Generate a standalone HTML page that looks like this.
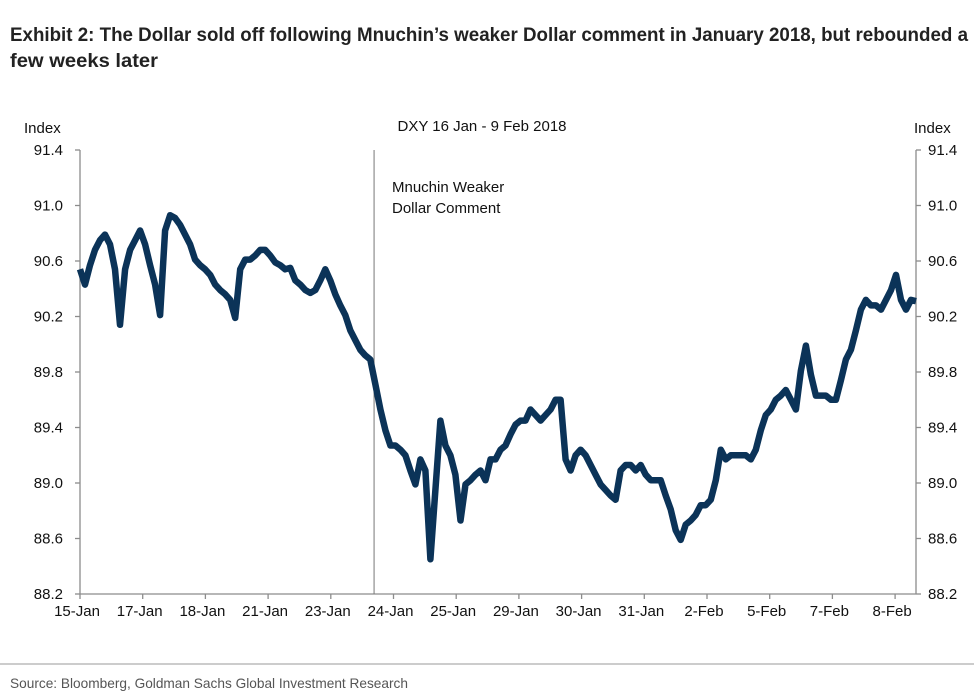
<!DOCTYPE html>
<html><head><meta charset="utf-8"><style>
html,body{margin:0;padding:0;background:#fff;}
svg{display:block;font-family:"Liberation Sans",Arial,sans-serif;}
</style></head><body>
<svg id="chart" width="974" height="691" viewBox="0 0 974 691">
<text x="10" y="41" font-size="19" font-weight="bold" fill="#222" textLength="958" lengthAdjust="spacingAndGlyphs">Exhibit 2: The Dollar sold off following Mnuchin’s weaker Dollar comment in January 2018, but rebounded a</text>
<text x="10" y="67" font-size="19" font-weight="bold" fill="#222" textLength="148" lengthAdjust="spacingAndGlyphs">few weeks later</text>
<text x="482" y="131" font-size="15" fill="#111" text-anchor="middle">DXY 16 Jan - 9 Feb 2018</text>
<text x="24" y="133" font-size="15" fill="#111">Index</text>
<text x="914" y="133" font-size="15" fill="#111">Index</text>
<g id="axes"></g>
<g id="series"></g>
<text x="392" y="192" font-size="15" fill="#111">Mnuchin Weaker</text>
<text x="392" y="213" font-size="15" fill="#111">Dollar Comment</text>
<line x1="0" y1="664" x2="974" y2="664" stroke="#999" stroke-width="1"/>
<text x="10" y="688" font-size="14" fill="#555" textLength="398" lengthAdjust="spacingAndGlyphs">Source: Bloomberg, Goldman Sachs Global Investment Research</text>
</svg>
<script>
const categories = ["15-Jan","17-Jan","18-Jan","21-Jan","23-Jan","24-Jan","25-Jan","29-Jan","30-Jan","31-Jan","2-Feb","5-Feb","7-Feb","8-Feb"];
const yTicks = [88.2,88.6,89.0,89.4,89.8,90.2,90.6,91.0,91.4];
const yTickLabels = ["88.2","88.6","89.0","89.4","89.8","90.2","90.6","91.0","91.4"];
const eventDay = 4.69;
const dxyValues = [90.54,90.43,90.57,90.68,90.75,90.79,90.72,90.54,90.14,90.54,90.68,90.75,90.82,90.72,90.57,90.43,90.21,90.82,90.93,90.91,90.86,90.79,90.72,90.61,90.57,90.54,90.50,90.43,90.39,90.36,90.32,90.19,90.54,90.61,90.61,90.64,90.68,90.68,90.64,90.59,90.57,90.54,90.55,90.46,90.43,90.39,90.37,90.39,90.46,90.54,90.46,90.36,90.28,90.21,90.10,90.03,89.96,89.92,89.89,89.71,89.53,89.38,89.27,89.27,89.24,89.20,89.09,88.99,89.17,89.09,88.45,88.95,89.45,89.27,89.20,89.06,88.73,88.99,89.02,89.06,89.09,89.02,89.17,89.17,89.24,89.27,89.35,89.42,89.45,89.45,89.53,89.49,89.45,89.49,89.53,89.60,89.60,89.17,89.09,89.20,89.24,89.20,89.13,89.06,88.99,88.95,88.91,88.88,89.09,89.13,89.13,89.09,89.13,89.06,89.02,89.02,89.02,88.91,88.81,88.66,88.59,88.70,88.73,88.77,88.84,88.84,88.88,89.02,89.24,89.17,89.20,89.20,89.20,89.20,89.17,89.24,89.38,89.49,89.53,89.60,89.63,89.67,89.60,89.53,89.81,89.99,89.78,89.63,89.63,89.63,89.60,89.60,89.74,89.89,89.96,90.10,90.25,90.32,90.28,90.28,90.25,90.32,90.39,90.50,90.32,90.25,90.32,90.31];

const NS = "http://www.w3.org/2000/svg";
const X0 = 80, X1 = 916, DAY_W = 62.7, DAY_MAX = (X1 - X0) / DAY_W;
const Y_TOP = 150, Y_BOT = 594, Y_MIN = 88.2, Y_MAX = 91.4;
const xScale = d => X0 + d * DAY_W;
const yScale = v => Y_BOT - (v - Y_MIN) / (Y_MAX - Y_MIN) * (Y_BOT - Y_TOP);
function mk(tag, attrs, parent) {
  const el = document.createElementNS(NS, tag);
  for (const k in attrs) el.setAttribute(k, attrs[k]);
  parent.appendChild(el);
  return el;
}
const axes = document.getElementById("axes");
const series = document.getElementById("series");
const AX = "#8c8c8c";

let el = mk("line", {x1: X0, y1: Y_TOP, x2: X0, y2: Y_BOT, stroke: AX, "stroke-width": 1.3}, axes);


el = mk("line", {x1: X1, y1: Y_TOP, x2: X1, y2: Y_BOT, stroke: AX, "stroke-width": 1.3}, axes);


el = mk("line", {x1: X0, y1: Y_BOT, x2: X1, y2: Y_BOT, stroke: AX, "stroke-width": 1.3}, axes);



yTicks.forEach((v, i) => {
  const y = yScale(v);
  let t = mk("line", {x1: X0 - 5, y1: y, x2: X0, y2: y, stroke: AX, "stroke-width": 1.3}, axes);
  
  
  t = mk("line", {x1: X1, y1: y, x2: X1 + 5, y2: y, stroke: AX, "stroke-width": 1.3}, axes);
  
  
  let lb = mk("text", {x: 63, y: y + 5, "font-size": 15, fill: "#111", "text-anchor": "end"}, axes);
  lb.textContent = yTickLabels[i];
  
  
  lb = mk("text", {x: 928, y: y + 5, "font-size": 15, fill: "#111"}, axes);
  lb.textContent = yTickLabels[i];
  
  
});

categories.forEach((c, i) => {
  const x = xScale(i);
  const t = mk("line", {x1: x, y1: Y_BOT, x2: x, y2: Y_BOT + 5, stroke: AX, "stroke-width": 1.3}, axes);
  
  
  const lb = mk("text", {x: x - 3, y: Y_BOT + 22, "font-size": 15, fill: "#111", "text-anchor": "middle"}, axes);
  lb.textContent = c;
  
  
});

const ev = mk("line", {x1: xScale(eventDay), y1: Y_TOP, x2: xScale(eventDay), y2: Y_BOT, stroke: "#777", "stroke-width": 1}, axes);



const n = dxyValues.length;
const pts = dxyValues.map((v, i) => xScale(i * DAY_MAX / (n - 1)).toFixed(1) + "," + yScale(v).toFixed(1)).join(" ");
const line = mk("polyline", {points: pts, fill: "none", stroke: "#0b3358", "stroke-width": 6.5, "stroke-linejoin": "round"}, series);


</script>
</body></html>
